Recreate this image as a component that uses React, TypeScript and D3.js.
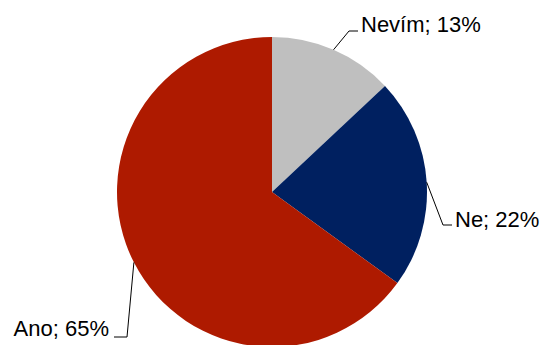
import React from "react";
import * as d3 from "d3";

const categories = ["Nevím", "Ne", "Ano"];
const values = [13, 22, 65];
const colors = ["#BFBFBF", "#002060", "#AE1A00"];

// leader line elbow offsets (from arc midpoint) and label side
const leaderLayout = [
  { elbow: [349, 31], end: [358, 31], textX: 361, baseline: 32, anchor: "start" },
  { elbow: [443, 225], end: [452, 225], textX: 455, baseline: 227, anchor: "start" },
  { elbow: [127, 337], end: [114, 337], textX: 109, baseline: 336, anchor: "end" },
];

const W = 545;
const H = 345;
const cx = 272;
const cy = 192;
const R = 155;

export default function App() {
  const pie = d3
    .pie<number>()
    .sort(null)
    .startAngle(0)
    .endAngle(2 * Math.PI)
    .value((d) => d);
  const arcs = pie(values);
  const arcGen = d3.arc<d3.PieArcDatum<number>>().innerRadius(0).outerRadius(R);

  return (
    <svg
      width={W}
      height={H}
      style={{ position: "absolute", left: 0, top: 0, background: "#fff" }}
      fontFamily="'Liberation Sans', Arial, sans-serif"
    >
      <g transform={`translate(${cx},${cy})`}>
        {arcs.map((a, i) => (
          <path key={i} d={arcGen(a) || ""} fill={colors[i]} />
        ))}
      </g>
      {arcs.map((a, i) => {
        const mid = (a.startAngle + a.endAngle) / 2;
        const px = cx + R * Math.sin(mid);
        const py = cy - R * Math.cos(mid);
        const l = leaderLayout[i];
        return (
          <g key={i}>
            <polyline
              points={`${px},${py} ${l.elbow[0]},${l.elbow[1]} ${l.end[0]},${l.end[1]}`}
              fill="none"
              stroke="#000"
              strokeWidth={1}
            />
            <text
              x={l.textX}
              y={l.baseline}
              fontSize={22}
              textAnchor={l.anchor as any}
              fill="#000"
            >
              {`${categories[i]}; ${values[i]}%`}
            </text>
          </g>
        );
      })}
    </svg>
  );
}
